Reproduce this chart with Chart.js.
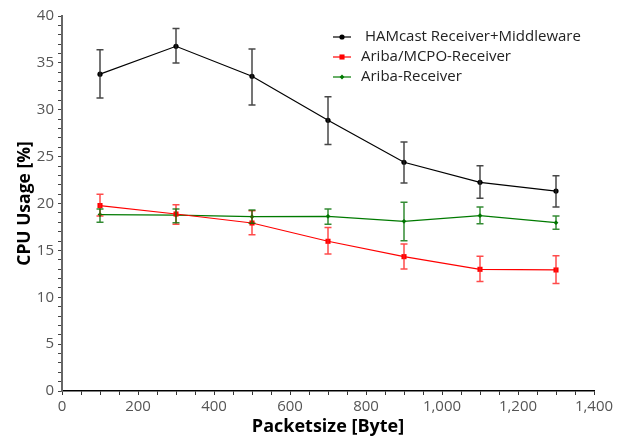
<!DOCTYPE html>
<html>
<head>
<meta charset="utf-8">
<script src="https://cdn.jsdelivr.net/npm/chart.js@4.4.1/dist/chart.umd.min.js"></script>
<style>
  html, body { margin: 0; padding: 0; background: #fff; }
  #wrap { width: 624px; height: 441px; position: relative; }
</style>
</head>
<body>
<div id="wrap"><canvas id="c" width="624" height="441"></canvas></div>
<script>
// ---- data ----
const packetSizes = [100, 300, 500, 700, 900, 1100, 1300];

const seriesLabels = [' HAMcast Receiver+Middleware', 'Ariba/MCPO-Receiver', 'Ariba-Receiver'];

const hamcastMean = [33.8, 36.77, 33.57, 28.87, 24.4, 22.26, 21.33];
const hamcastLow  = [31.25, 35.0, 30.5, 26.3, 22.19, 20.55, 19.63];
const hamcastHigh = [36.4, 38.66, 36.48, 31.4, 26.56, 24.04, 22.97];

const mcpoMean = [19.78, 18.88, 17.92, 15.97, 14.33, 12.98, 12.91];
const mcpoLow  = [18.67, 17.78, 16.68, 14.61, 13.01, 11.67, 11.46];
const mcpoHigh = [20.98, 19.88, 19.24, 17.43, 15.68, 14.37, 14.44];

const aribaMean = [18.82, 18.77, 18.6, 18.63, 18.1, 18.71, 17.96];
const aribaLow  = [18.0, 17.96, 17.9, 17.78, 16.04, 17.85, 17.25];
const aribaHigh = [19.41, 19.41, 19.31, 19.41, 20.13, 19.63, 18.67];

const xAxisTitle = 'Packetsize [Byte]';
const yAxisTitle = 'CPU Usage [%]';

function pts(means) { return packetSizes.map((x, i) => ({ x: x, y: means[i] })); }

const FONT = "'Open Sans', 'Noto Sans', sans-serif";

// error bars plugin: draws from data through the chart scales
const errorBars = {
  id: 'errorBars',
  afterDatasetsDraw(chart) {
    const ctx = chart.ctx;
    const xs = chart.scales.x, ys = chart.scales.y;
    chart.data.datasets.forEach(ds => {
      const lo = ds.errLow, hi = ds.errHigh;
      ctx.save();
      ctx.strokeStyle = ds.errColor;
      ctx.lineWidth = 1.5;
      packetSizes.forEach((x, i) => {
        const px = xs.getPixelForValue(x);
        const y1 = ys.getPixelForValue(lo[i]);
        const y2 = ys.getPixelForValue(hi[i]);
        ctx.beginPath();
        ctx.moveTo(px, y1); ctx.lineTo(px, y2);
        ctx.moveTo(px - 3.5, y1); ctx.lineTo(px + 3.5, y1);
        ctx.moveTo(px - 3.5, y2); ctx.lineTo(px + 3.5, y2);
        ctx.stroke();
      });
      ctx.restore();
    });
  }
};

// in-plot legend
const innerLegend = {
  id: 'innerLegend',
  afterDraw(chart, args, opts) {
    const ctx = chart.ctx;
    ctx.save();
    chart.data.datasets.forEach((ds, i) => {
      const y = opts.top + i * opts.rowGap;
      ctx.strokeStyle = ds.borderColor;
      ctx.lineWidth = 1.2;
      ctx.beginPath();
      ctx.moveTo(opts.left, y); ctx.lineTo(opts.left + opts.lineLen, y);
      ctx.stroke();
      ctx.fillStyle = ds.pointBackgroundColor;
      const cx = opts.left + opts.lineLen / 2;
      Chart.helpers.drawPoint(ctx, {pointStyle: ds.pointStyle, radius: ds.pointRadius, borderWidth: 0}, cx, y);
      ctx.fillStyle = '#222';
      ctx.font = '15px ' + FONT;
      ctx.textBaseline = 'middle';
      ctx.textAlign = 'left';
      ctx.fillText(ds.label, opts.textX, y);
    });
    ctx.restore();
  }
};

new Chart(document.getElementById('c'), {
  type: 'line',
  data: {
    datasets: [
      {
        label: seriesLabels[0], data: pts(hamcastMean),
        borderColor: '#000', backgroundColor: '#000', pointBackgroundColor: '#000',
        borderWidth: 1.2, pointStyle: 'circle', pointRadius: 2.6, pointBorderWidth: 0,
        errLow: hamcastLow, errHigh: hamcastHigh, errColor: 'rgba(40,40,40,0.85)'
      },
      {
        label: seriesLabels[1], data: pts(mcpoMean),
        borderColor: '#ff0000', backgroundColor: '#ff0000', pointBackgroundColor: '#ff0000',
        borderWidth: 1.2, pointStyle: 'rect', pointRadius: 3.6, pointBorderWidth: 0,
        errLow: mcpoLow, errHigh: mcpoHigh, errColor: 'rgba(255,30,30,0.8)'
      },
      {
        label: seriesLabels[2], data: pts(aribaMean),
        borderColor: '#007a00', backgroundColor: '#007a00', pointBackgroundColor: '#007a00',
        borderWidth: 1.2, pointStyle: 'rectRot', pointRadius: 2.4, pointBorderWidth: 0,
        errLow: aribaLow, errHigh: aribaHigh, errColor: 'rgba(0,110,0,0.8)'
      }
    ]
  },
  options: {
    responsive: false,
    animation: false,
    devicePixelRatio: 1,
    layout: { padding: { left: 15, right: 30, top: 16, bottom: 0 } },
    plugins: {
      legend: { display: false },
      tooltip: { enabled: false },
      innerLegend: { left: 333, lineLen: 18, textX: 361, top: 37, rowGap: 20 }
    },
    scales: {
      x: {
        type: 'linear', min: 0, max: 1400,
        afterFit(s) { s.height = 50; },
        border: { color: '#000', width: 1.5 },
        grid: { drawOnChartArea: false, drawTicks: true, tickLength: 4, color: '#333', lineWidth: 1 },
        ticks: {
          stepSize: 50, autoSkip: false, maxRotation: 0, padding: 3,
          color: '#555', font: { family: FONT, size: 15 },
          callback: v => (v % 200 === 0 ? v.toLocaleString('en-US') : '')
        },
        title: { display: true, text: xAxisTitle, color: '#000',
          font: { family: FONT, size: 18, weight: 'bold' }, padding: { top: 0, bottom: 3 } }
      },
      y: {
        type: 'linear', min: 0, max: 40,
        afterFit(s) { s.width = 47; },
        border: { color: '#666', width: 2 },
        grid: { drawOnChartArea: false, drawTicks: true, tickLength: 4, color: '#444', lineWidth: 1 },
        ticks: {
          stepSize: 1, autoSkip: false, padding: 4,
          color: '#555', font: { family: FONT, size: 15 },
          callback: v => (v % 5 === 0 ? String(v) : '')
        },
        title: { display: true, text: yAxisTitle, color: '#000',
          font: { family: FONT, size: 17.5, weight: 'bold' }, padding: { top: 0, bottom: 0 } }
      }
    }
  },
  plugins: [errorBars, innerLegend]
});
</script>
</body>
</html>
